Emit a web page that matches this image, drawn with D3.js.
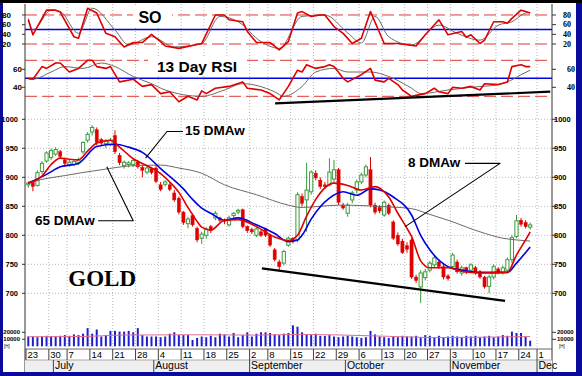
<!DOCTYPE html>
<html>
<head>
<meta charset="utf-8">
<script src="https://cdn.jsdelivr.net/npm/d3@7"></script>
<style>
  body { margin: 0; background: #fff; }
  svg { display: block; font-family: "Liberation Sans", Arial, sans-serif; }
</style>
</head>
<body>
<div id="chart"></div>
<script>
// gold, daily bars (Jun 23 - Nov 26 2008)
const holidays = ["2008-07-04", "2008-09-01", "2008-11-27"];

const openP = [887,891,886,910,928,934,940,944,930,921, 922,925,944,964,978,982,965,958,957,972,
  938,920,922,922,926,917,909,915,916,887, 888,887,873,864,840,820,834,812,795,800,
  815,830,830,826,818,834,840,844,815,810, 800,806,811,800,775,754,752,783,795,792,
  867,861,875,907,895,887,887,897,913,852, 838,861,878,892,904,913,852,848,835,852,
  823,800,790,782,792,728,711,727,740,749, 754,746,730,746,754,735,744,740,744,737,
  728,712,728,742,736,740,758,798,826,822, 814];
const highP = [893,894,912,928,945,950,952,947,934,930, 931,934,962,978,990,986,968,966,968,981,
  942,929,928,932,930,922,920,918,920,892, 895,890,878,867,842,832,838,815,806,814,
  818,842,832,829,834,840,846,846,817,813, 814,809,813,803,778,758,775,798,797,874,
  872,925,912,912,900,892,933,930,916,856, 856,877,896,908,922,935,856,852,860,855,
  826,805,794,788,795,732,740,742,756,765, 758,750,733,770,758,748,746,752,747,740,
  730,732,750,745,748,762,800,835,830,826, 822];
const lowP = [882,876,884,906,925,930,937,932,918,918, 919,921,940,960,972,955,955,950,954,940,
  921,915,917,918,915,900,905,905,890,876, 884,876,858,836,818,812,815,788,785,794,
  804,826,822,819,815,830,836,812,804,802, 797,797,797,780,755,740,748,780,786,788,
  850,806,870,895,880,880,884,890,852,844, 832,855,872,888,900,848,836,838,832,835,
  792,782,768,770,725,718,683,722,736,745, 742,724,722,742,734,730,733,736,732,725,
  708,700,724,733,732,735,752,795,815,812, 810];
const closeP = [890,884,908,924,942,946,948,936,924,926, 927,930,960,974,986,960,959,962,964,944,
  925,926,925,929,918,912,916,908,893,879, 892,879,861,840,822,828,818,792,802,811,
  808,838,826,824,830,838,843,815,808,806, 811,800,800,783,758,746,772,795,790,870,
  855,878,909,899,884,884,909,913,857,847, 852,873,892,904,918,852,840,842,857,838,
  795,785,770,776,728,722,735,737,752,761, 746,728,725,766,737,744,736,749,735,728,
  711,728,746,735,744,758,796,825,819,815, 818];

// volume in thousands
const volume = [14,14,13,14,15,14,14,15,16,15, 17,16,18,26,18,24,14,16,22,22,
  21,21,22,20,26,16,14,14,14,13, 14,18,20,16,16,16,9,12,14,13,
  15,13,18,17,14,19,13,16,20,14, 18,20,20,19,17,16,18,19,30,28,
  20,17,16,18,15,15,16,14,13,14, 15,14,13,12,13,22,17,14,13,12,
  14,13,15,14,14,15,13,16,15,13, 15,13,14,15,14,13,15,14,15,13,
  14,15,13,14,16,15,21,19,19,14, 8];
const volAvg = [[0,13.7],[12,14],[20,16],[35,16.5],[50,16],[60,17],[75,15],[90,12.5],[110,14]];

// moving averages: [day index, price]
const ma8 = [[0,890],[3,902],[5,922],[7,933],[9,931],[11,930],[13,945],[15,959],[18,964],[20,952],
  [23,932],[26,920],[28,912],[31,892],[33,874],[35,848],[37,824],[38,814],[40,809],[43,826],
  [46,827],[50,815],[54,797],[57,791],[59,800],[61,833],[63,862],[67,890],[70,886],[73,878],
  [76,884],[79,866],[81,838],[83,812],[84,798],[86,756],[88,744],[92,744],[95,738],[99,735],
  [105,736],[107,766],[109,792],[110,806]];
const ma15 = [[0,890],[4,905],[7,918],[11,924],[15,953],[19,957],[22,952],[25,943],[29,915],[34,880],
  [36,862],[38,847],[40,838],[43,826],[46,830],[50,818],[54,803],[57,789],[59,792],[60,800],
  [62,828],[66,864],[69,875],[72,869],[75,880],[77,878],[80,866],[84,835],[86,800],[88,775],
  [92,746],[95,740],[99,736],[105,736],[107,752],[110,780]];
const ma65 = [[0,889],[1,892],[8,903],[16,913],[23,920],[29,921],[33,916],[38,907],[43,887],[50,870],
  [57,852],[60,848],[64,850],[68,852],[74,851],[79,849],[84,846],[88,836],[92,826],[99,806],
  [104,795],[107,792],[110,790]];

// stochastic oscillator: fast (red) and slow (grey)
const soFast = [[0,70],[1,39],[4,90],[6,90],[7,86],[10,35],[11,32],[13,94],[15,84],[17,42],
  [19,35],[21,14],[23,23],[25,23],[27,40],[29,25],[30,16],[33,11],[38,21],[41,80],
  [43,80],[44,70],[47,66],[48,46],[50,23],[53,23],[55,8],[57,25],[59,84],[60,87],
  [62,77],[64,80],[65,80],[67,56],[69,42],[71,21],[73,32],[75,87],[78,21],[79,21],
  [81,21],[85,16],[87,39],[90,70],[92,39],[95,46],[96,34],[97,39],[99,21],[100,28],
  [102,66],[104,66],[105,63],[106,73],[108,90],[109,87],[110,84]];
const soSlow = [[0,73],[1,49],[5,90],[7,87],[11,42],[14,94],[19,49],[22,18],[27,35],[32,14],
  [38,21],[42,77],[46,66],[51,25],[55,11],[60,77],[65,80],[70,43],[73,22],[76,77],
  [79,35],[84,18],[90,59],[94,42],[99,28],[103,59],[106,66],[109,84],[110,85]];

// 13 day RSI (red) and its average (grey)
const rsiLine = [[0,50],[1,49],[3,63],[4,61],[6,67],[7,67],[9,57],[11,61],[13,70],[14,70],
  [15,63],[17,61],[18,63],[20,46],[23,49],[25,41],[27,43],[29,33],[31,35],[33,24],
  [35,30],[37,26],[38,36],[39,33],[41,39],[44,41],[47,46],[48,39],[51,37],[53,33],
  [55,26],[57,41],[59,59],[60,57],[61,65],[63,61],[65,63],[66,65],[67,63],[69,50],
  [70,46],[73,54],[75,61],[76,48],[78,46],[79,50],[81,43],[82,37],[84,30],[85,31],
  [87,33],[89,39],[90,35],[92,33],[93,40],[95,39],[97,41],[99,37],[100,44],[103,43],
  [105,46],[106,63],[108,65],[109,63],[110,63]];
const rsiAvg = [[0,49],[1,49],[5,57],[8,63],[12,61],[16,67],[19,63],[23,52],[27,44],[30,37],
  [38,30],[43,37],[47,44],[54,35],[56,30],[60,41],[63,57],[67,61],[70,57],[75,57],
  [79,52],[84,39],[86,33],[92,37],[97,40],[103,43],[105,46],[108,54],[110,59]];

// trend lines and call-outs, in [day index, value]
const priceTrend = [[51.2,743],[104.5,687]];
const rsiTrend = [[54.1,22.2],[114.4,35.1]];
const callouts = [
  {text: "15 DMAw", at: [34.35,973], path: [[33.9,979],[30.4,979],[25.7,933]]},
  {text: "65 DMAw", at: [1.47,818], path: [[15.3,825],[23,825],[17.2,918]]},
  {text: "8 DMAw", at: [83.2,918], path: [[95.7,924],[103.4,924],[82.6,815]]}
];

const soTicks = [80, 60, 40, 20];
const rsiTicks = [60, 40];
const priceTicks = [1000, 950, 900, 850, 800, 750, 700];
const volTicks = [20000, 10000];

// ---- layout ----
const W = 582, H = 376;
const left = 25, right = 552;

const days = d3.timeDay.range(new Date(2008, 5, 23), new Date(2008, 11, 2))
  .filter(d => d.getDay() > 0 && d.getDay() < 6 && !holidays.includes(d3.timeFormat("%Y-%m-%d")(d)));

const step = 4.5625;
const x = d3.scaleLinear().domain([0, 112]).range([28.3, 28.3 + 112 * step]);
const ySO = d3.scaleLinear().domain([0, 100]).range([53.7, 5.3]);
const yRSI = d3.scaleLinear().domain([20, 80]).range([105.3, 51.3]);
const yP = d3.scaleLinear().domain([700, 1000]).range([293.3, 119.3]);
const yV = d3.scaleLinear().domain([0, 20000]).range([346.3, 332.3]);

const svg = d3.select("#chart").append("svg").attr("width", W).attr("height", H);

// frame
svg.append("rect").attr("width", W).attr("height", H).attr("fill", "#0b0b9a");
svg.append("rect").attr("width", W).attr("height", 3).attr("fill", "#000");
svg.append("rect").attr("x", 3).attr("y", 3).attr("width", 573).attr("height", 369).attr("fill", "#fff");

const weekIdx = days.map((d, i) => i).filter(i => i === 0 || days[i].getDay() < days[i - 1].getDay());
const monthIdx = days.map((d, i) => i).filter(i => i > 0 && days[i].getMonth() !== days[i - 1].getMonth());
const sep = i => x(i) - step / 2;

// grid
const grid = svg.append("g").attr("stroke", "#b8b8b8").attr("stroke-dasharray", "1,2");
grid.selectAll(".vg").data(weekIdx.slice(1)).enter().append("line")
  .attr("x1", d => sep(d)).attr("x2", d => sep(d)).attr("y1", 4).attr("y2", 347);
grid.selectAll(".hg").data(priceTicks).enter().append("line")
  .attr("x1", left).attr("x2", right).attr("y1", d => yP(d)).attr("y2", d => yP(d));

// oscillator guide lines
function guides(scale, dashed, mid) {
  svg.append("g").selectAll("line").data(dashed).enter().append("line")
    .attr("x1", left).attr("x2", right).attr("y1", d => scale(d)).attr("y2", d => scale(d))
    .attr("stroke", "#e03838").attr("stroke-width", 1).attr("stroke-dasharray", "12,5");
  svg.append("line").attr("x1", left).attr("x2", right)
    .attr("y1", scale(mid)).attr("y2", scale(mid))
    .attr("stroke", "#0000e0").attr("stroke-width", 1.6);
}
guides(ySO, [80, 20], 50);
guides(yRSI, [70, 30], 50);

// title boxes
svg.append("rect").attr("x", 133).attr("y", 7).attr("width", 39).attr("height", 19).attr("fill", "#fff");
svg.append("rect").attr("x", 148).attr("y", 56).attr("width", 99).attr("height", 19).attr("fill", "#fff");
svg.append("text").attr("x", 150).attr("y", 23).attr("text-anchor", "middle")
  .attr("font-size", 16).attr("font-weight", "bold").text("SO");
svg.append("text").attr("x", 157).attr("y", 72)
  .attr("font-size", 15.5).attr("font-weight", "bold").text("13 Day RSI");

// volume
svg.append("g").selectAll("line").data(volume).enter().append("line")
  .attr("x1", (d, i) => x(i)).attr("x2", (d, i) => x(i))
  .attr("y1", yV(0)).attr("y2", d => yV(d * 1000))
  .attr("stroke", "#1e1ed0").attr("stroke-width", 2);
svg.append("path").datum(volAvg)
  .attr("d", d3.line().x(d => x(d[0])).y(d => yV(d[1] * 1000)).curve(d3.curveMonotoneX))
  .attr("fill", "none").attr("stroke", "#e07090").attr("stroke-width", 1);

// candles
const bars = closeP.map((c, i) => ({i, o: openP[i], h: highP[i], l: lowP[i], c}));
const candle = svg.append("g").selectAll("g").data(bars).enter().append("g");
candle.append("line")
  .attr("x1", d => x(d.i)).attr("x2", d => x(d.i))
  .attr("y1", d => yP(d.h)).attr("y2", d => yP(d.l))
  .attr("stroke", d => d.c >= d.o ? "#3a9a3a" : "#e00000").attr("stroke-width", 1);
candle.append("rect")
  .attr("x", d => x(d.i) - 1.6).attr("width", 3.2)
  .attr("y", d => yP(Math.max(d.o, d.c)))
  .attr("height", d => Math.max(1, Math.abs(yP(d.o) - yP(d.c))))
  .attr("fill", d => d.c >= d.o ? "#fff" : "#e00000")
  .attr("stroke", d => d.c >= d.o ? "#3a9a3a" : "#e00000")
  .attr("stroke-width", d => d.c >= d.o ? 1 : 0.4);

// lines
function drawLine(data, scale, color, width, curve) {
  svg.append("path").datum(data)
    .attr("d", d3.line().x(d => x(d[0])).y(d => scale(d[1])).curve(curve))
    .attr("fill", "none").attr("stroke", color).attr("stroke-width", width)
    .attr("stroke-linejoin", "round");
}
drawLine(ma65, yP, "#6a6a6a", 1, d3.curveMonotoneX);
drawLine(ma15, yP, "#0000e0", 1.6, d3.curveMonotoneX);
drawLine(ma8, yP, "#e00000", 1.6, d3.curveMonotoneX);

drawLine(soSlow, ySO, "#6a6a6a", 1, d3.curveMonotoneX);
drawLine(soFast, ySO, "#e00000", 1.6, d3.curveLinear);
drawLine(rsiAvg, yRSI, "#6a6a6a", 1, d3.curveMonotoneX);
drawLine(rsiLine, yRSI, "#e00000", 1.6, d3.curveLinear);

drawLine(priceTrend, yP, "#000", 2.2, d3.curveLinear);
drawLine(rsiTrend, yRSI, "#000", 2.2, d3.curveLinear);

// call-outs
callouts.forEach(c => {
  drawLine(c.path, yP, "#000", 1.1, d3.curveLinear);
  svg.append("text").attr("x", x(c.at[0])).attr("y", yP(c.at[1]))
    .attr("font-size", 13.5).attr("font-weight", "bold").text(c.text);
});
svg.append("text").attr("x", x(8.77)).attr("y", yP(713))
  .attr("font-family", "'Liberation Serif', 'Times New Roman', serif")
  .attr("font-size", 23).attr("font-weight", "bold").text("GOLD");

// axes frame
svg.append("line").attr("x1", left).attr("x2", left).attr("y1", 4).attr("y2", 372).attr("stroke", "#333");
svg.append("line").attr("x1", right).attr("x2", right).attr("y1", 4).attr("y2", 372).attr("stroke", "#333");

function yTicks(values, scale, fmt, leftEdge, rightX, rightAnchor, size, family) {
  const g = svg.append("g");
  g.selectAll(".tl").data(values).enter().append("line")
    .attr("x1", left - 3).attr("x2", left).attr("y1", d => scale(d)).attr("y2", d => scale(d))
    .attr("stroke", "#333");
  g.selectAll(".tr").data(values).enter().append("line")
    .attr("x1", right).attr("x2", right + 4).attr("y1", d => scale(d)).attr("y2", d => scale(d))
    .attr("stroke", "#333");
  g.selectAll(".ll").data(values).enter().append("text")
    .attr("x", leftEdge).attr("y", d => scale(d)).attr("dy", "0.35em")
    .attr("text-anchor", "end").attr("font-size", size).attr("font-weight", "bold")
    .text(fmt);
  g.selectAll(".lr").data(values).enter().append("text")
    .attr("x", rightX).attr("y", d => scale(d)).attr("dy", "0.35em")
    .attr("text-anchor", rightAnchor).attr("font-size", size).attr("font-weight", "bold")
    .attr("font-family", family).text(fmt);
}
yTicks(soTicks, ySO, d => d, 11, 571, "end", 8, "'Liberation Serif', serif");
yTicks(rsiTicks, yRSI, d => d, 22, 575, "end", 8, "'Liberation Serif', serif");
yTicks(priceTicks, yP, d => d, 18, 554, "start", 7.5, "'Liberation Sans', sans-serif");
yTicks(volTicks, yV, d => d, 20, 557, "start", 6, "'Liberation Sans', sans-serif");
svg.append("text").attr("x", 4).attr("y", 348).attr("font-size", 4.5).text("[H]");
svg.append("text").attr("x", 559).attr("y", 348).attr("font-size", 4.5).text("[H]");

// date axis
svg.append("rect").attr("x", left).attr("y", 360).attr("width", right - left).attr("height", 12)
  .attr("fill", "#efefef");
svg.append("line").attr("x1", left).attr("x2", right).attr("y1", 349).attr("y2", 349).attr("stroke", "#666");
svg.append("line").attr("x1", left).attr("x2", right).attr("y1", 360).attr("y2", 360).attr("stroke", "#aaa");
const wk = svg.append("g");
wk.selectAll("line").data(weekIdx).enter().append("line")
  .attr("x1", d => sep(d)).attr("x2", d => sep(d)).attr("y1", 349).attr("y2", 360)
  .attr("stroke", "#444");
wk.selectAll("text").data(weekIdx).enter().append("text")
  .attr("x", d => sep(d) + 1.5).attr("y", 358.3)
  .attr("font-size", 9.5).text(d => days[d].getDate());
const mo = svg.append("g");
mo.selectAll("line").data(monthIdx).enter().append("line")
  .attr("x1", d => sep(d)).attr("x2", d => sep(d)).attr("y1", 360).attr("y2", 372)
  .attr("stroke", "#444");
// the last month only has room for its short name
mo.selectAll("text").data(monthIdx).enter().append("text")
  .attr("x", d => sep(d) + 1.5).attr("y", 369.3)
  .attr("font-size", 10.5)
  .text(d => right - sep(d) < 40 ? d3.timeFormat("%b")(days[d]) : d3.timeFormat("%B")(days[d]));
</script>
</body>
</html>
